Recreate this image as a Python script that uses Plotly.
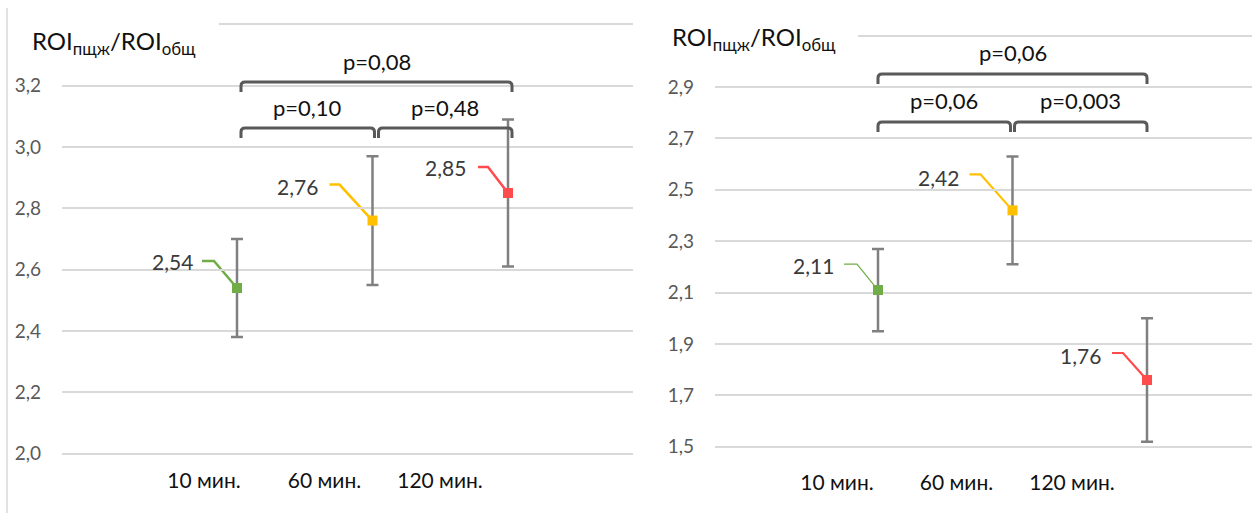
import plotly.graph_objects as go

W, H = 1252, 513

# ---------------- data ----------------
categories = ["10 мин.", "60 мин.", "120 мин."]
left_means = [2.54, 2.76, 2.85]
left_sd = [0.16, 0.21, 0.24]
right_means = [2.11, 2.42, 1.76]
right_sd = [0.16, 0.21, 0.24]
# p-values for the pairs (10-60), (60-120), (10-120)
left_p = ["p=0,10", "p=0,48", "p=0,08"]
right_p = ["p=0,06", "p=0,003", "p=0,06"]
left_ticks = [2.0, 2.2, 2.4, 2.6, 2.8, 3.0, 3.2, 3.4]
right_ticks = [1.5, 1.7, 1.9, 2.1, 2.3, 2.5, 2.7, 2.9, 3.1]
y_title = "ROI<sub>пщж</sub>/ROI<sub>общ</sub>"

# ---------------- style / layout ----------------
point_colors = ["#70AD47", "#FFC000", "#FF4B4B"]
FONT = "Lato"
GRID = "#d9d9d9"
BRACKET = "#595959"

panels = [
    dict(means=left_means, sd=left_sd, p=left_p, ticks=left_ticks,
         px_left=62, px_right=633, x1px=237, xu=135.5,
         y_ref=3.0, y_ref_px=147, yu=306.5, bottom_px=456,
         tick_shift=[-33, -48, -68], tick_standoff=10,
         label_off=[(-42, 26), (-53, 34), (-40, 25)],
         leader=[(-35, -23, 27), (-43, -33, 36), (-30, -20, 26)],
         leader_w=[2.5, 2.5, 2.5],
         br_small=3.062, br_big=3.212, br_shift=4,
         title_x=30, title_y=42, cover_to=219),
    dict(means=right_means, sd=right_sd, p=right_p, ticks=right_ticks,
         px_left=715, px_right=1252, x1px=878, xu=134.5,
         y_ref=2.9, y_ref_px=87, yu=257.0, bottom_px=456,
         tick_shift=[-41, -56, -75], tick_standoff=12,
         label_off=[(-42, 25), (-52, 33), (-44, 24)],
         leader=[(-34, -21, 26), (-43, -32, 36), (-35, -24, 27)],
         leader_w=[1.2, 2.2, 2.2],
         br_small=2.764, br_big=2.951, br_shift=0,
         title_x=670, title_y=38, cover_to=858),
]

fig = go.Figure()
shapes, annotations = [], []
xs = [1, 2, 3]

for i, P in enumerate(panels):
    sfx = "" if i == 0 else str(i + 1)
    xref, yref = "x" + sfx, "y" + sfx
    xu, yu = P["xu"], P["yu"]
    xr = [1 - (P["x1px"] - P["px_left"]) / xu, 1 + (P["px_right"] - P["x1px"]) / xu]
    yr = [P["y_ref"] - (P["bottom_px"] - P["y_ref_px"]) / yu, P["y_ref"] + P["y_ref_px"] / yu]

    fig.add_trace(go.Scatter(
        x=xs, y=P["means"], mode="markers", xaxis=xref, yaxis=yref,
        marker=dict(symbol="square", size=10, color=point_colors, line=dict(width=0)),
        error_y=dict(type="data", array=P["sd"], color="#808080", thickness=2.5, width=6),
        showlegend=False, hoverinfo="skip"))

    ticktext = [f"{v:.1f}".replace(".", ",") for v in P["ticks"]]
    ticktext[-1] = " "
    fig.update_layout(**{
        "xaxis" + sfx: dict(domain=[P["px_left"] / W, P["px_right"] / W], range=xr,
                            showgrid=False, zeroline=False, showline=False,
                            tickvals=[x + s / xu for x, s in zip(xs, P["tick_shift"])],
                            ticktext=categories, ticks="", automargin=False,
                            ticklabelstandoff=P["tick_standoff"],
                            tickfont=dict(family=FONT, size=21, color="#111111"),
                            anchor=yref, fixedrange=True),
        "yaxis" + sfx: dict(domain=[(H - P["bottom_px"]) / H, 1], range=yr,
                            tickvals=P["ticks"], ticktext=ticktext, automargin=False,
                            showgrid=True, gridcolor=GRID, gridwidth=2,
                            zeroline=False, showline=False, ticks="",
                            ticklabelstandoff=20,
                            tickfont=dict(family=FONT, size=19, color="#595959"),
                            anchor=xref, fixedrange=True),
    })

    # data labels with leader lines
    for k, (x, m) in enumerate(zip(xs, P["means"])):
        ox, oy = P["label_off"][k]
        annotations.append(dict(x=x, y=m, xref=xref, yref=yref, xshift=ox, yshift=oy,
                                xanchor="right", yanchor="middle", showarrow=False,
                                text=f"{m:.2f}".replace(".", ","),
                                font=dict(family=FONT, size=21, color="#3a3a3a")))
        a, b, ly = P["leader"][k]
        shapes.append(dict(type="path", xref=xref, yref=yref, xsizemode="pixel",
                           ysizemode="pixel", xanchor=x, yanchor=m,
                           path=f"M {a},{ly} L {b},{ly} L 0,0",
                           line=dict(color=point_colors[k], width=P["leader_w"][k]),
                           layer="below"))

    # significance brackets
    dx = lambda px: px / xu
    dy = lambda px: px / yu
    pairs = [(0, 1, P["br_small"]), (1, 2, P["br_small"]), (0, 2, P["br_big"])]
    for (a, b, lev), ptxt in zip(pairs, P["p"]):
        x0 = xs[a] + dx(P["br_shift"] + (2 if a == 1 and b == 2 else 0))
        x1 = xs[b] + dx(P["br_shift"] - (2 if a == 0 and b == 1 else 0))
        yb = lev - dy(10)
        r_x, r_y = dx(4), dy(4)
        path = (f"M {x0},{yb} L {x0},{lev - r_y} Q {x0},{lev} {x0 + r_x},{lev} "
                f"L {x1 - r_x},{lev} Q {x1},{lev} {x1},{lev - r_y} L {x1},{yb}")
        shapes.append(dict(type="path", xref=xref, yref=yref, path=path,
                           line=dict(color=BRACKET, width=3), layer="above"))
        annotations.append(dict(x=(x0 + x1) / 2, y=lev, xref=xref, yref=yref, yshift=21,
                                xanchor="center", yanchor="middle", showarrow=False,
                                text=ptxt, font=dict(family=FONT, size=22, color="#111111")))

    # white box behind the axis title (covers the top gridline)
    shapes.append(dict(type="rect", xref="paper", yref=yref, ysizemode="pixel",
                       yanchor=P["ticks"][-1], y0=-4, y1=4,
                       x0=(P["px_left"] - 4) / W, x1=P["cover_to"] / W,
                       fillcolor="white", line=dict(width=0), layer="above"))
    annotations.append(dict(x=P["title_x"] / W, y=1 - P["title_y"] / H, xref="paper", yref="paper",
                            xanchor="left", yanchor="middle", showarrow=False, text=y_title,
                            font=dict(family=FONT, size=24, color="#111111")))

# left chart border line
shapes.append(dict(type="line", xref="paper", yref="paper", x0=7 / W, x1=7 / W,
                   y0=0, y1=1 - 8 / H, line=dict(color="#d9d9d9", width=1.5)))

fig.update_layout(width=W, height=H, margin=dict(l=0, r=0, t=0, b=0, pad=0),
                  paper_bgcolor="white", plot_bgcolor="white",
                  shapes=shapes, annotations=annotations, showlegend=False)

fig.write_html("out.html", config={"displayModeBar": False})
